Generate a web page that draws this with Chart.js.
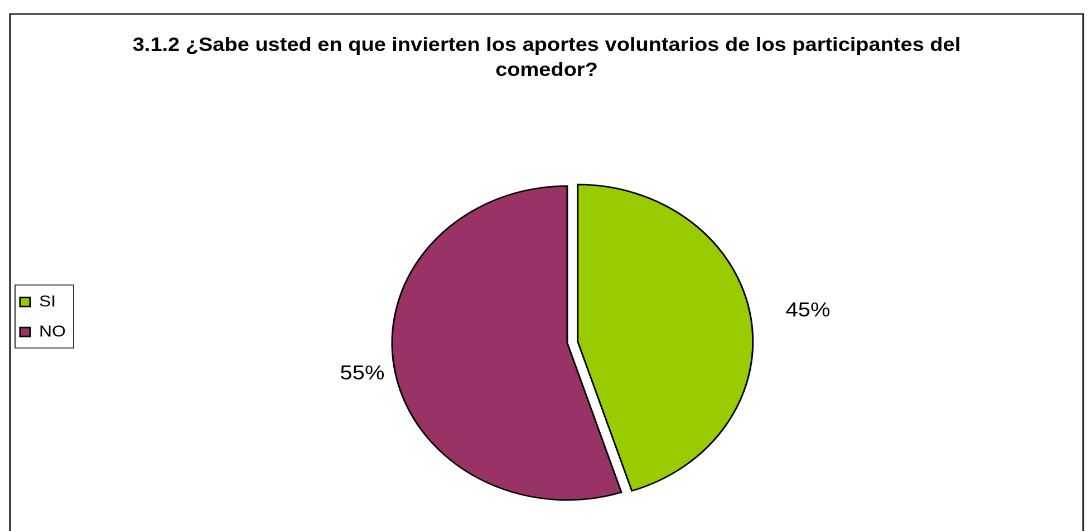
<!DOCTYPE html>
<html>
<head>
<meta charset="utf-8">
<script src="https://cdn.jsdelivr.net/npm/chart.js@4/dist/chart.umd.min.js"></script>
<style>
  html, body { margin: 0; padding: 0; background: #fff; overflow: hidden; }
  #pie { display: block; background: #fff; }
</style>
</head>
<body>
<canvas id="pie" width="978" height="531"></canvas>
<script>
var titleLines = ['3.1.2 ¿Sabe usted en que invierten los aportes voluntarios de los participantes del', 'comedor?'];
var answers = ['SI', 'NO'];
var percents = [45, 55];

var sliceColors = ['#99CC00', '#993366'];
var fontFamily = '"Liberation Sans", Arial, sans-serif';

// frame, title and legend box
var framePlugin = {
	id: 'frame',
	beforeDraw: function(chart) {
		var ctx = chart.ctx;
		ctx.save();
		ctx.strokeStyle = '#222';
		ctx.lineWidth = 1.6;
		ctx.beginPath();
		ctx.moveTo(9, chart.height + 5);
		ctx.lineTo(9, 14);
		ctx.lineTo(971, 14);
		ctx.lineTo(971, chart.height + 5);
		ctx.stroke();

		ctx.fillStyle = '#000';
		ctx.font = 'bold 19px ' + fontFamily;
		ctx.textAlign = 'center';
		ctx.textBaseline = 'middle';
		for (var i = 0; i < titleLines.length; i++) {
			ctx.fillText(titleLines[i], 490, 46 + i * 25);
		}
		ctx.restore();
	},
	afterDraw: function(chart) {
		var boxes = chart.legend.legendHitBoxes;
		if (!boxes || !boxes.length) return;
		var left = boxes[0].left - 4.5;
		var top = boxes[0].top - 9;
		var right = 0;
		for (var b of boxes) right = Math.max(right, b.left + b.width);
		var last = boxes[boxes.length - 1];
		var ctx = chart.ctx;
		ctx.save();
		ctx.strokeStyle = '#333';
		ctx.lineWidth = 1;
		ctx.strokeRect(left, top, right + 7 - left, last.top + last.height + 8 - top);
		ctx.restore();
	}
};

// pulls a slice out from the centre, then draws the arcs
var explodePlugin = {
	id: 'explode',
	beforeDatasetDraw: function(chart, args, opts) {
		var ctx = chart.ctx;
		args.meta.data.forEach(function(arc, i) {
			var d = opts.distance[i] || 0;
			var mid = (arc.startAngle + arc.endAngle) / 2;
			ctx.save();
			ctx.translate(Math.cos(mid) * d, Math.sin(mid) * d);
			arc.draw(ctx);
			ctx.restore();
		});
		return false;
	}
};

// percentage labels outside the slices
var percentPlugin = {
	id: 'percentLabels',
	afterDatasetsDraw: function(chart, args, opts) {
		var ctx = chart.ctx;
		var data = chart.data.datasets[0].data;
		var total = 0;
		for (var v of data) total += v;
		var pulled = chart.options.plugins.explode.distance;
		ctx.save();
		ctx.font = '20px ' + fontFamily;
		ctx.fillStyle = '#000';
		ctx.textAlign = 'center';
		ctx.textBaseline = 'middle';
		chart.getDatasetMeta(0).data.forEach(function(arc, i) {
			var mid = (arc.startAngle + arc.endAngle) / 2;
			var dist = (pulled[i] || 0) + arc.outerRadius + opts.gap[i];
			var txt = Math.round(data[i] / total * 100) + '%';
			ctx.fillText(txt, arc.x + Math.cos(mid) * dist, arc.y + Math.sin(mid) * dist + 2);
		});
		ctx.restore();
	}
};

var canvas = document.getElementById('pie');
var chart = new Chart(canvas, {
	type: 'pie',
	data: {
		labels: answers,
		datasets: [{
			data: percents,
			backgroundColor: sliceColors,
			borderColor: '#000',
			borderWidth: 1.5,
			hoverBorderWidth: 1.5,
			borderJoinStyle: 'miter',
			radius: 157
		}]
	},
	plugins: [framePlugin, explodePlugin, percentPlugin],
	options: {
		responsive: false,
		devicePixelRatio: 2,
		animation: false,
		events: [],
		layout: {
			padding: { top: 180.5, left: 4, right: 30, bottom: 25.5 }
		},
		plugins: {
			explode: { distance: [9.5, 0] },
			percentLabels: { gap: [52, 29] },
			title: { display: false },
			legend: {
				display: true,
				position: 'left',
				align: 'start',
				fullSize: false,
				title: {
					display: true,
					text: '',
					font: { size: 12, lineHeight: 1.2 },
					padding: { top: 85.1, bottom: 0 }
				},
				labels: {
					color: '#000',
					boxWidth: 9,
					boxHeight: 9,
					padding: 14,
					font: { family: fontFamily, size: 16 }
				}
			},
			tooltip: { enabled: false }
		}
	}
});

// the source picture is stretched sideways; widen the finished canvas the same way
canvas.style.width = '1091px';
canvas.style.height = '531px';
</script>
</body>
</html>
